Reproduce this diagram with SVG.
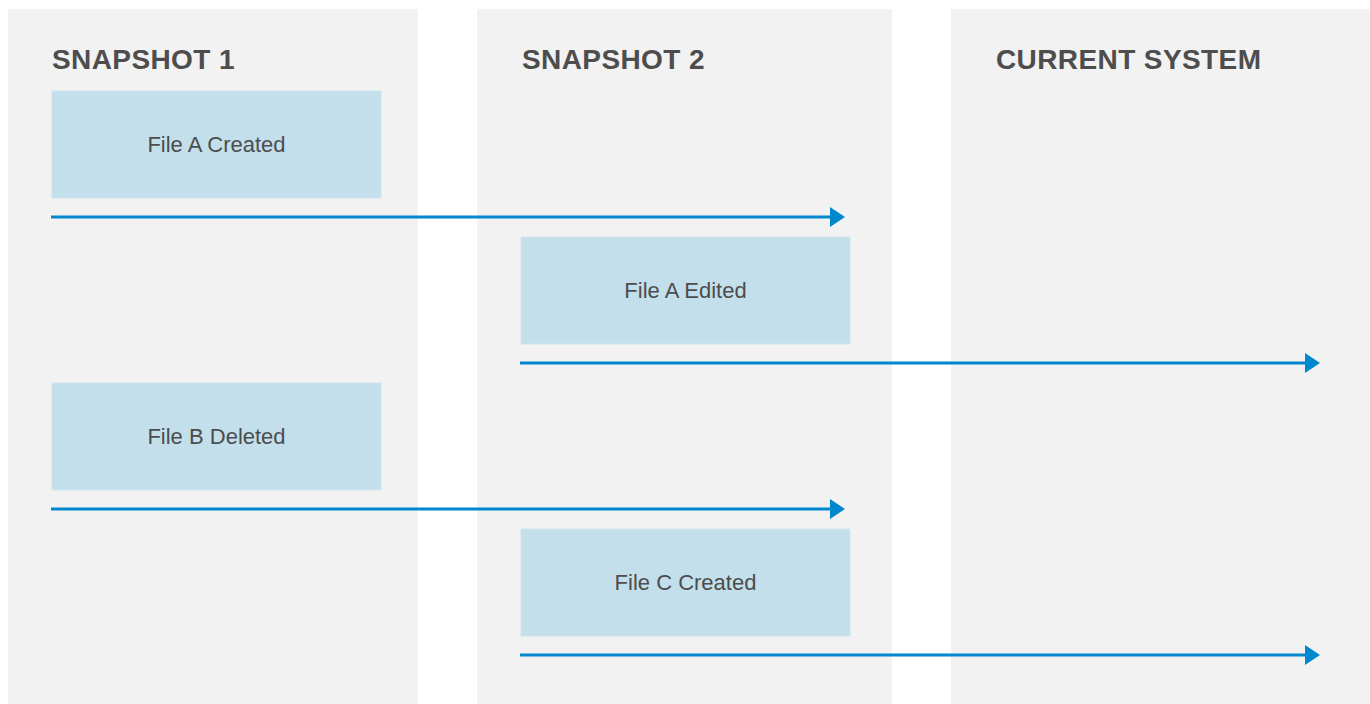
<svg xmlns="http://www.w3.org/2000/svg" width="1370" height="704" viewBox="0 0 1370 704">
<style>
.panel{fill:#f2f2f2}
.title{font-family:"Liberation Sans",Arial,sans-serif;font-weight:bold;font-size:28px;letter-spacing:0.4px;fill:#4d4d4d}
.box{fill:#c3dfec;stroke:#cfe5ef;stroke-width:1}
.lbl{font-family:"Liberation Sans",Arial,sans-serif;font-size:22px;fill:#4d4d4d;text-anchor:middle}
.arrow{stroke:#0088ce;stroke-width:3;fill:none;marker-end:url(#ah)}
</style>
<defs>
<marker id="ah" markerUnits="userSpaceOnUse" markerWidth="15" markerHeight="20" refX="0" refY="10" orient="auto" viewBox="0 0 15 20">
<path d="M0,0 L15,10 L0,20 Z" fill="#0088ce"/>
</marker>
</defs>
<rect width="1370" height="704" fill="#ffffff"/>
<g id="panel-snapshot1">
<rect class="panel" x="8" y="9" width="410" height="695"/>
<text class="title" x="52" y="69">SNAPSHOT 1</text>
</g>
<g id="panel-snapshot2">
<rect class="panel" x="477" y="9" width="415" height="695"/>
<text class="title" x="522" y="69">SNAPSHOT 2</text>
</g>
<g id="panel-current">
<rect class="panel" x="951" y="9" width="419" height="695"/>
<text class="title" x="996" y="69">CURRENT SYSTEM</text>
</g>
<g id="node-file-a-created">
<rect class="box" x="52" y="91" width="329" height="107"/>
<text class="lbl" x="216.5" y="152">File A Created</text>
</g>
<g id="node-file-a-edited">
<rect class="box" x="521" y="237" width="329" height="107"/>
<text class="lbl" x="685.5" y="298">File A Edited</text>
</g>
<g id="node-file-b-deleted">
<rect class="box" x="52" y="383" width="329" height="107"/>
<text class="lbl" x="216.5" y="444">File B Deleted</text>
</g>
<g id="node-file-c-created">
<rect class="box" x="521" y="529" width="329" height="107"/>
<text class="lbl" x="685.5" y="590">File C Created</text>
</g>
<g id="connectors">
<line class="arrow" x1="51" y1="217" x2="830" y2="217"/>
<line class="arrow" x1="520" y1="363" x2="1305" y2="363"/>
<line class="arrow" x1="51" y1="509" x2="830" y2="509"/>
<line class="arrow" x1="520" y1="655" x2="1305" y2="655"/>
</g>
</svg>
